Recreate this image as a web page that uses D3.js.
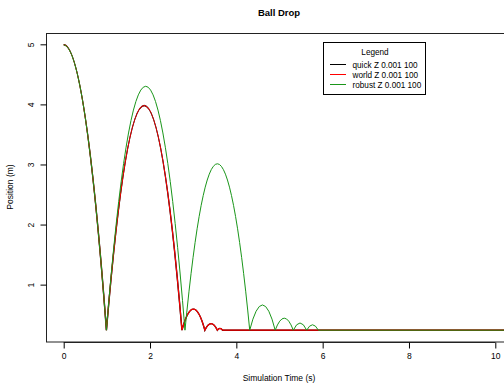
<!DOCTYPE html>
<html>
<head>
<meta charset="utf-8">
<script src="https://cdn.jsdelivr.net/npm/d3@7"></script>
<style>
  body { margin: 0; background: #fff; }
  text { font-family: "Liberation Sans", Arial, Helvetica, sans-serif; fill: #000; }
</style>
</head>
<body>
<svg id="chart"></svg>
<script>
// values
var floorY = 0.25
var startY = 5
var endT = 10.5
var seriesNames = ['quick Z 0.001 100', 'world Z 0.001 100', 'robust Z 0.001 100']
var seriesColors = ['#000000', '#ff0000', '#1a961a']
// times the ball hits the floor, and the peak height of each bounce in between
var quickHits = [0.99, 2.74, 3.27, 3.56, 3.68]
var quickPeaks = [3.99, 0.60, 0.36, 0.28]
var worldHits = [0.99, 2.74, 3.27, 3.56, 3.68]
var worldPeaks = [3.99, 0.60, 0.36, 0.28]
var robustHits = [0.99, 2.81, 4.31, 4.90, 5.32, 5.63, 5.90]
var robustPeaks = [4.31, 3.02, 0.67, 0.45, 0.37, 0.34]
var xTicks = [0, 2, 4, 6, 8, 10]
var yTicks = [1, 2, 3, 4, 5]

var W = 504, H = 383
var svg = d3.select('#chart').attr('width', W).attr('height', H)

var x = d3.scaleLinear().domain([0, 10]).range([63.7, 495.3])
var yPad = (startY - floorY) * 0.04
var y = d3.scaleLinear().domain([floorY - yPad, startY + yPad]).range([341.6, 33.4])

// each bounce is a parabola, drawn as a quadratic bezier through the scales
function bouncePath(hits, peaks){
    var p = d3.path()
    p.moveTo(x(0), y(startY))
    p.quadraticCurveTo(x(hits[0] / 2), y(startY), x(hits[0]), y(floorY))
    for (var i = 0; i < peaks.length; i++) {
        var t0 = hits[i], t1 = hits[i + 1]
        var ctrl = 2 * peaks[i] - floorY
        p.quadraticCurveTo(x((t0 + t1) / 2), y(ctrl), x(t1), y(floorY))
    }
    p.lineTo(x(endT), y(floorY))
    return p.toString()
}

var series = [
    {name: seriesNames[0], color: seriesColors[0], d: bouncePath(quickHits, quickPeaks), w: 1.4},
    {name: seriesNames[1], color: seriesColors[1], d: bouncePath(worldHits, worldPeaks), w: 1.2},
    {name: seriesNames[2], color: seriesColors[2], d: bouncePath(robustHits, robustPeaks), w: 1}
]

svg.selectAll('path.series')
    .data(series)
    .join('path')
    .attr('class', 'series')
    .attr('d', d => d.d)
    .attr('fill', 'none')
    .attr('stroke', d => d.color)
    .attr('stroke-width', d => d.w)

// plot box
svg.append('rect')
    .attr('x', 46.5).attr('y', 33.5)
    .attr('width', 520).attr('height', 308.5)
    .attr('fill', 'none')
    .attr('stroke', '#222')

// x axis
var xAxis = svg.append('g')
    .attr('transform', 'translate(0,342.5)')
    .call(d3.axisBottom(x).tickValues(xTicks).tickSize(6).tickPadding(4).tickFormat(d3.format('d')))
xAxis.select('.domain').attr('d', 'M' + x(0) + ',0H' + x(10)).attr('stroke', '#222')
xAxis.selectAll('text').style('font-size', '8.5px').style('font-family', '"Liberation Sans", Arial, sans-serif')

// y axis, labels turned like R
var yAxis = svg.append('g')
    .attr('transform', 'translate(46.5,0)')
    .call(d3.axisLeft(y).tickValues(yTicks).tickSize(6).tickFormat(d3.format('d')))
yAxis.select('.domain').attr('d', 'M0,' + y(1) + 'V' + y(5)).attr('stroke', '#222')
yAxis.selectAll('text')
    .attr('x', null).attr('dy', null)
    .attr('transform', d => 'translate(-12.5,' + y(d) + ') rotate(-90)')
    .attr('y', 0)
    .style('text-anchor', 'middle')
    .style('font-size', '8.5px')
    .style('font-family', '"Liberation Sans", Arial, sans-serif')
yAxis.selectAll('.tick').attr('transform', null)
yAxis.selectAll('.tick line').attr('transform', d => 'translate(0,' + y(d) + ')')

// titles
svg.append('text')
    .attr('x', 279).attr('y', 16)
    .attr('text-anchor', 'middle')
    .style('font-size', '9.5px').style('font-weight', 'bold')
    .text('Ball Drop')
svg.append('text')
    .attr('x', 279).attr('y', 381)
    .attr('text-anchor', 'middle')
    .style('font-size', '8.5px')
    .text('Simulation Time (s)')
svg.append('text')
    .attr('transform', 'translate(13,187) rotate(-90)')
    .attr('text-anchor', 'middle')
    .style('font-size', '8.5px')
    .text('Position (m)')

// legend
var legend = svg.append('g')
legend.append('rect')
    .attr('x', 323.5).attr('y', 42.5)
    .attr('width', 102).attr('height', 52)
    .attr('fill', '#fff').attr('stroke', '#000')
legend.append('text')
    .attr('x', 375).attr('y', 55.3)
    .attr('text-anchor', 'middle')
    .style('font-size', '8.2px')
    .text('Legend')
var items = legend.selectAll('g.item')
    .data(series)
    .join('g')
    .attr('class', 'item')
    .attr('transform', (d, i) => 'translate(0,' + (64.5 + i * 10) + ')')
items.append('line')
    .attr('x1', 330).attr('x2', 346)
    .attr('stroke', d => d.color)
items.append('text')
    .attr('x', 352.5).attr('y', 3)
    .style('font-size', '8.2px')
    .text(d => d.name)
</script>
</body>
</html>
